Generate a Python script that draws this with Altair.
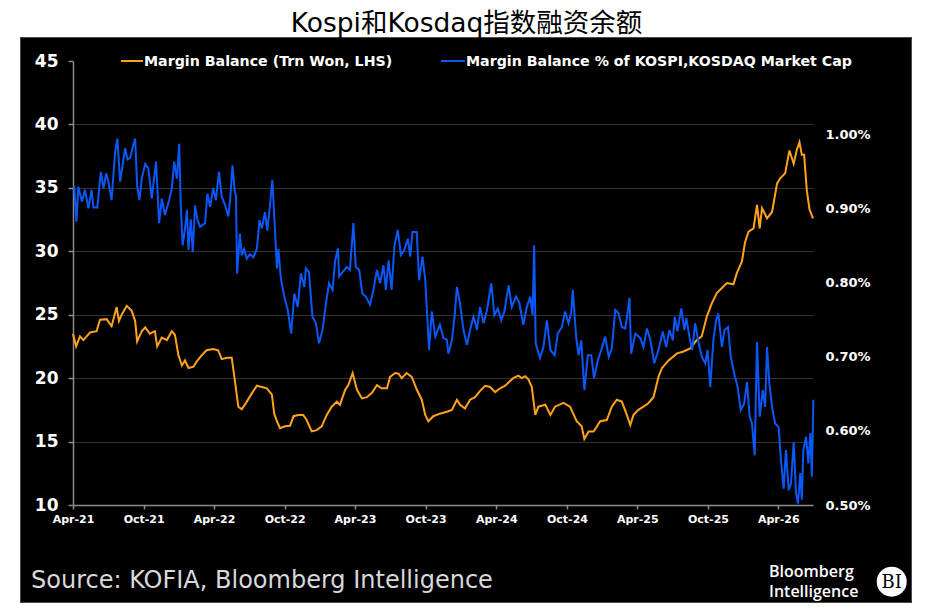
import altair as alt
import pandas as pd

# ---------------- data ----------------
# time positions are months elapsed since 2021-04-01
orange_m = [0, 0.26, 0.6, 0.88, 1.45, 2.02, 2.3, 2.87, 3.29, 3.72,
            3.91, 4.14, 4.57, 5.0, 5.28, 5.47, 5.85, 6.13, 6.55, 6.98,
            7.17, 7.55, 7.97, 8.4, 8.68, 8.96, 9.25, 9.53, 9.81, 10.24,
            10.53, 10.95, 11.38, 11.94, 12.37, 12.66, 13.08, 13.51, 13.79, 14.07,
            14.36, 14.78, 15.21, 15.63, 16.06, 16.49, 16.91, 17.11, 17.36, 17.62,
            18.04, 18.47, 18.75, 19.17, 19.6, 19.89, 20.31, 20.74, 21.17, 21.59,
            22.02, 22.44, 22.72, 23.15, 23.43, 23.8, 24.14, 24.57, 25.0, 25.42,
            25.85, 26.27, 26.7, 26.98, 27.4, 27.69, 27.97, 28.4, 28.83, 29.25,
            29.68, 29.96, 30.24, 30.66, 31.23, 31.8, 32.23, 32.66, 32.94, 33.36,
            33.79, 34.21, 34.64, 35.06, 35.49, 35.91, 36.34, 36.77, 37.11, 37.47,
            37.9, 38.19, 38.47, 38.75, 39.04, 39.32, 39.6, 40.17, 40.6, 41.02,
            41.73, 42.3, 42.86, 43.29, 43.52, 43.86, 44.28, 44.85, 45.42, 45.85,
            46.27, 46.7, 47.12, 47.4, 47.69, 48.11, 48.54, 48.94, 49.39, 49.81,
            50.1, 50.66, 51.38, 51.94, 52.51, 53.08, 53.51, 53.93, 54.36, 54.78,
            55.21, 55.63, 56.2, 56.49, 56.91, 57.19, 57.47, 57.9, 58.19, 58.41,
            58.61, 59.04, 59.46, 59.89, 60.17, 60.6, 60.96, 61.3, 61.59, 61.81,
            62.02, 62.21, 62.44, 62.66, 62.95]
orange_v = [23.5, 22.5, 23.3, 23.0, 23.6, 23.7, 24.6, 24.65, 24.1, 25.6,
            24.5, 25.0, 25.7, 25.3, 24.5, 22.9, 23.7, 24.0, 23.5, 23.7,
            22.5, 23.2, 23.0, 23.7, 23.4, 21.8, 21.0, 21.4, 20.8, 20.9,
            21.3, 21.8, 22.2, 22.3, 22.2, 21.5, 21.6, 21.6, 19.6, 17.75,
            17.55, 18.15, 18.8, 19.4, 19.3, 19.2, 18.7, 17.2, 16.6, 16.05,
            16.2, 16.25, 17.0, 17.1, 17.1, 16.7, 15.8, 15.9, 16.2, 17.1,
            17.75, 18.15, 17.9, 19.1, 19.45, 20.4, 19.1, 18.4, 18.5, 18.85,
            19.45, 19.2, 19.2, 20.1, 20.4, 20.35, 20.0, 20.4, 20.1, 19.1,
            18.3, 17.1, 16.6, 17.0, 17.2, 17.35, 17.5, 18.3, 17.9, 17.6,
            18.3, 18.5, 19.0, 19.4, 19.3, 18.9, 19.2, 19.4, 19.7, 20.0,
            20.2, 20.0, 20.15, 19.9, 19.3, 17.1, 17.75, 17.9, 17.1, 17.75,
            18.05, 17.75, 16.6, 16.2, 15.2, 15.8, 15.8, 16.6, 16.7, 17.75,
            18.3, 18.15, 17.1, 16.3, 17.1, 17.5, 17.75, 18.0, 18.5, 20.1,
            20.8, 21.4, 21.95, 22.1, 22.35, 23.0, 23.3, 24.85, 25.9, 26.7,
            27.1, 27.5, 27.4, 28.3, 29.2, 30.7, 31.55, 31.8, 33.65, 31.8,
            33.4, 32.6, 33.1, 35.35, 35.75, 36.15, 37.95, 36.9, 38.0, 38.6,
            37.6, 37.6, 34.8, 33.3, 32.6]

blue_m = [0.09, 0.31, 0.45, 0.74, 1.02, 1.3, 1.59, 1.73, 2.07, 2.38,
          2.58, 2.81, 3.0, 3.29, 3.57, 3.77, 4.0, 4.43, 4.62, 4.85,
          5.13, 5.28, 5.47, 5.64, 5.85, 6.13, 6.41, 6.7, 7.06, 7.34,
          7.55, 7.83, 8.11, 8.4, 8.6, 8.83, 9.02, 9.17, 9.34, 9.53,
          9.68, 9.81, 10.02, 10.19, 10.38, 10.58, 10.81, 11.23, 11.43, 11.66,
          11.94, 12.17, 12.43, 12.66, 12.94, 13.22, 13.36, 13.56, 13.73, 13.87,
          13.98, 14.21, 14.36, 14.55, 14.78, 15.06, 15.34, 15.63, 15.86, 16.06,
          16.34, 16.54, 16.77, 16.96, 17.13, 17.34, 17.47, 17.68, 17.96, 18.27,
          18.55, 18.83, 19.12, 19.4, 19.69, 19.8, 20.09, 20.37, 20.66, 20.94,
          21.22, 21.51, 21.79, 22.07, 22.3, 22.53, 22.64, 22.92, 23.29, 23.57,
          23.86, 24.06, 24.34, 24.62, 24.91, 25.28, 25.56, 25.85, 26.13, 26.41,
          26.61, 26.83, 27.12, 27.34, 27.63, 27.91, 28.2, 28.49, 28.68, 28.88,
          29.25, 29.45, 29.73, 29.96, 30.3, 30.53, 30.81, 31.23, 31.51, 31.8,
          31.94, 32.23, 32.45, 32.66, 32.94, 33.22, 33.51, 33.79, 34.07, 34.36,
          34.64, 34.92, 35.21, 35.57, 35.86, 36.14, 36.43, 36.71, 37.05, 37.34,
          37.68, 37.96, 38.32, 38.61, 38.89, 39.09, 39.23, 39.38, 39.74, 40.03,
          40.31, 40.6, 40.96, 41.25, 41.59, 41.87, 42.15, 42.38, 42.53, 42.81,
          43.0, 43.23, 43.52, 43.8, 44.09, 44.34, 44.66, 45.0, 45.28, 45.56,
          45.85, 46.13, 46.41, 46.7, 46.98, 47.34, 47.49, 47.83, 48.26, 48.54,
          48.83, 49.11, 49.45, 49.81, 50.19, 50.47, 50.75, 51.04, 51.18, 51.43,
          51.74, 52.0, 52.17, 52.45, 52.66, 52.94, 53.22, 53.51, 53.79, 53.98,
          54.21, 54.49, 54.72, 54.92, 55.21, 55.43, 55.72, 55.97, 56.26, 56.54,
          56.82, 57.11, 57.34, 57.56, 57.76, 57.98, 58.19, 58.41, 58.7, 58.89,
          59.04, 59.26, 59.46, 59.74, 60.03, 60.23, 60.45, 60.66, 60.88, 61.08,
          61.3, 61.51, 61.68, 61.87, 62.02, 62.15, 62.36, 62.55, 62.72, 62.87,
          62.98]
blue_v = [0.931, 0.882, 0.929, 0.909, 0.925, 0.900, 0.925, 0.901, 0.901, 0.949,
          0.927, 0.947, 0.938, 0.911, 0.976, 0.994, 0.936, 0.981, 0.966, 0.968,
          0.985, 0.994, 0.931, 0.911, 0.940, 0.960, 0.954, 0.913, 0.963, 0.880,
          0.913, 0.891, 0.907, 0.927, 0.963, 0.940, 0.987, 0.904, 0.850, 0.873,
          0.898, 0.844, 0.885, 0.841, 0.904, 0.885, 0.875, 0.880, 0.920, 0.902,
          0.927, 0.911, 0.949, 0.916, 0.904, 0.889, 0.913, 0.958, 0.927, 0.916,
          0.812, 0.866, 0.837, 0.845, 0.832, 0.838, 0.834, 0.845, 0.884, 0.873,
          0.895, 0.870, 0.904, 0.938, 0.891, 0.819, 0.845, 0.806, 0.781, 0.763,
          0.731, 0.785, 0.767, 0.812, 0.794, 0.819, 0.814, 0.754, 0.745, 0.718,
          0.736, 0.772, 0.799, 0.790, 0.830, 0.846, 0.808, 0.814, 0.821, 0.817,
          0.880, 0.821, 0.817, 0.785, 0.781, 0.770, 0.790, 0.817, 0.799, 0.823,
          0.790, 0.830, 0.790, 0.848, 0.871, 0.837, 0.844, 0.859, 0.835, 0.868,
          0.868, 0.803, 0.835, 0.803, 0.709, 0.761, 0.727, 0.743, 0.725, 0.723,
          0.704, 0.722, 0.754, 0.794, 0.772, 0.736, 0.716, 0.736, 0.754, 0.736,
          0.767, 0.745, 0.763, 0.799, 0.756, 0.765, 0.749, 0.761, 0.796, 0.767,
          0.781, 0.774, 0.743, 0.767, 0.781, 0.756, 0.850, 0.718, 0.698, 0.713,
          0.749, 0.709, 0.702, 0.731, 0.740, 0.761, 0.745, 0.759, 0.790, 0.725,
          0.702, 0.722, 0.655, 0.702, 0.702, 0.671, 0.695, 0.711, 0.727, 0.700,
          0.711, 0.763, 0.759, 0.740, 0.738, 0.779, 0.704, 0.731, 0.725, 0.713,
          0.738, 0.722, 0.691, 0.709, 0.734, 0.713, 0.736, 0.722, 0.754, 0.734,
          0.765, 0.736, 0.752, 0.727, 0.709, 0.745, 0.718, 0.700, 0.691, 0.709,
          0.659, 0.722, 0.749, 0.758, 0.713, 0.736, 0.740, 0.700, 0.677, 0.659,
          0.628, 0.637, 0.666, 0.619, 0.610, 0.567, 0.720, 0.619, 0.655, 0.632,
          0.713, 0.664, 0.632, 0.610, 0.605, 0.561, 0.522, 0.574, 0.520, 0.529,
          0.585, 0.516, 0.502, 0.543, 0.507, 0.574, 0.592, 0.556, 0.597, 0.538,
          0.642]

left_ticks = [10, 15, 20, 25, 30, 35, 40, 45]
right_ticks = [0.5, 0.6, 0.7, 0.8, 0.9, 1.0]
x_tick_dates = [(2021, 4), (2021, 10), (2022, 4), (2022, 10), (2023, 4), (2023, 10),
                (2024, 4), (2024, 10), (2025, 4), (2025, 10), (2026, 4)]

title_text = "Kospi和Kosdaq指数融资余额"
legend_1 = "Margin Balance (Trn Won, LHS)"
legend_2 = "Margin Balance % of KOSPI,KOSDAQ Market Cap"
source_text = "Source: KOFIA, Bloomberg Intelligence"
logo_lines = ["Bloomberg", "Intelligence"]

ORANGE = "#FFA31A"
BLUE = "#0B57F7"

BASE = pd.Timestamp("2021-04-01")


def to_dates(months):
    return [(BASE + pd.Timedelta(days=round(m * 30.4333))).strftime("%Y-%m-%d") for m in months]


orange_df = pd.DataFrame({"date": to_dates(orange_m), "value": orange_v})
blue_df = pd.DataFrame({"date": to_dates(blue_m), "value": blue_v})
one = pd.DataFrame({"k": [0]})

x_scale = alt.Scale(type="utc", domain=[alt.DateTime(year=2021, month=4, date=1, utc=True),
                                        alt.DateTime(year=2026, month=6, date=30, utc=True)])
x_axis = alt.Axis(values=[alt.DateTime(year=y, month=m, date=1, utc=True) for y, m in x_tick_dates],
                  format="%b-%y", title=None, labelFlush=False, labelOverlap=False, grid=False,
                  domainColor="#8c8c8c", domainWidth=1.5, tickColor="#8c8c8c", tickWidth=1.5,
                  tickSize=4, labelColor="white", labelFont="DejaVu Sans", labelFontWeight="bold",
                  labelFontSize=11, labelPadding=4)

left_axis = alt.Axis(orient="left", values=left_ticks, title=None, format="d", grid=True,
                     gridColor="#333333", gridWidth=1,
                     gridOpacity={"condition": {"test": "datum.value == 45 || datum.value == 10", "value": 0}, "value": 1},
                     domainColor="#8c8c8c", domainWidth=1.5, tickColor="#8c8c8c", tickWidth=1.5,
                     tickSize=5, labelColor="white", labelFont="DejaVu Sans", labelFontWeight="bold",
                     labelFontSize=17, labelPadding=10)

right_axis = alt.Axis(orient="right", values=right_ticks, title=None, grid=False, domain=False,
                      ticks=False, labelExpr="format(datum.value, '.2f') + '%'",
                      labelColor="white", labelFont="DejaVu Sans", labelFontWeight="bold",
                      labelFontSize=13, labelPadding=12)

orange_line = alt.Chart(orange_df).mark_line(color=ORANGE, strokeWidth=2).encode(
    x=alt.X("date:T", scale=x_scale, axis=x_axis),
    y=alt.Y("value:Q", scale=alt.Scale(domain=[10, 45], nice=False, zero=False), axis=left_axis),
)

blue_line = alt.Chart(blue_df).mark_line(color=BLUE, strokeWidth=2).encode(
    x=alt.X("date:T", scale=x_scale, axis=x_axis),
    y=alt.Y("value:Q", scale=alt.Scale(domain=[0.5, 1.0986], nice=False, zero=False), axis=right_axis),
)


def band(x1, x2, y1, y2):
    return alt.Chart(one).mark_rect(color="white").encode(
        x=alt.value(x1), x2=alt.value(x2), y=alt.value(y1), y2=alt.value(y2))


white_top = band(-70, 860, -60, -24)
white_left = band(-70, -53, -60, 545)
white_right = band(839, 860, -60, 545)

border = alt.Chart(one).mark_rect(fillOpacity=0, stroke="#4a4a4a", strokeWidth=1).encode(
    x=alt.value(-52.5), x2=alt.value(838.5), y=alt.value(-23.5), y2=alt.value(541.5))


def label(text, x, y, **kw):
    return alt.Chart(one).mark_text(text=text, **kw).encode(x=alt.value(x), y=alt.value(y))


title = label(title_text, 393.5, -29.2, font="DejaVu Sans, Noto Sans CJK SC", fontSize=26.5,
              color="black", align="center", baseline="alphabetic")

leg_rule_1 = alt.Chart(one).mark_rule(color=ORANGE, strokeWidth=2).encode(
    x=alt.value(48), x2=alt.value(70), y=alt.value(0))
leg_rule_2 = alt.Chart(one).mark_rule(color=BLUE, strokeWidth=2).encode(
    x=alt.value(368), x2=alt.value(392), y=alt.value(0))
leg_text_1 = label(legend_1, 71, 5, font="DejaVu Sans", fontWeight="bold", fontSize=14.2,
                   color="white", align="left", baseline="alphabetic")
leg_text_2 = label(legend_2, 393, 5, font="DejaVu Sans", fontWeight="bold", fontSize=14.2,
                   color="white", align="left", baseline="alphabetic")

source = label(source_text, -42, 527, font="DejaVu Sans", fontSize=24, color="#d9d9d9",
               align="left", baseline="alphabetic")
logo = label(logo_lines, 696, 515.5, font="Open Sans", fontSize=16, fontWeight=600,
             lineHeight=20.5, color="white", align="left", baseline="alphabetic")
bi_circle = alt.Chart(one).mark_point(shape="circle", filled=True, color="white", opacity=1,
                                      size=900).encode(x=alt.value(818.7), y=alt.value(520.7))
bi_text = label("BI", 818.7, 521.5, font="DejaVu Serif", fontSize=18, color="black",
                align="center", baseline="middle")

chart = alt.layer(
    orange_line, blue_line,
    white_top, white_left, white_right, border,
    title, leg_rule_1, leg_rule_2, leg_text_1, leg_text_2,
    source, logo, bi_circle, bi_text,
).resolve_scale(y="independent").properties(
    width=740, height=444,
    autosize=alt.AutoSizeParams(type="none"),
    padding={"left": 65, "top": 53, "right": 114, "bottom": 98},
).configure(background="black").configure_view(strokeWidth=0)

chart.save("out.html", embed_options={"renderer": "svg", "actions": False})
